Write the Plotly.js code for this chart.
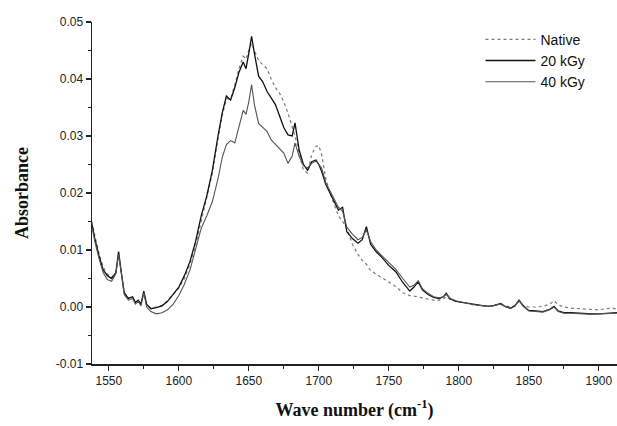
<!DOCTYPE html>
<html>
<head>
<meta charset="utf-8">
<script src="https://cdn.plot.ly/plotly-3.0.1.min.js"></script>
<style>html,body{margin:0;padding:0;background:#fff;}#chart{width:617px;height:426px;}</style>
</head>
<body>
<div id="chart"></div>
<script>
var waveNumber = [1538,1540,1543,1546,1549,1552,1555,1557,1559,1561,1564,1567,1569,1571,1573,1575,1577,1580,1584,1588,1592,1596,1600,1604,1608,1612,1616,1620,1624,1628,1631,1634,1637,1640,1643,1646,1648,1650,1652,1654,1657,1660,1663,1666,1669,1672,1675,1678,1681,1683,1686,1689,1692,1695,1698,1700,1702,1705,1708,1711,1714,1717,1720,1724,1728,1731,1734,1737,1741,1745,1750,1755,1760,1765,1768,1771,1774,1778,1782,1786,1789,1791,1794,1798,1803,1808,1813,1818,1823,1827,1830,1833,1837,1840,1843,1846,1850,1855,1860,1865,1868,1871,1875,1880,1885,1890,1895,1900,1905,1910,1913];

var native = [0.0150,0.0125,0.0095,0.0070,0.0058,0.0052,0.0060,0.0094,0.0060,0.0025,0.0016,0.0018,0.0008,0.0011,0.0004,0.0026,0.0004,-0.0002,0.0000,0.0003,0.0011,0.0023,0.0033,0.0050,0.0075,0.0108,0.0150,0.0188,0.0235,0.0295,0.0335,0.0365,0.0365,0.0390,0.0418,0.0440,0.0435,0.0450,0.0462,0.0450,0.0432,0.0425,0.0418,0.0400,0.0385,0.0375,0.0360,0.0340,0.0315,0.0300,0.0270,0.0240,0.0235,0.0268,0.0282,0.0283,0.0268,0.0225,0.0200,0.0178,0.0160,0.0150,0.0138,0.0110,0.0092,0.0082,0.0075,0.0064,0.0058,0.0052,0.0045,0.0036,0.0025,0.0020,0.0019,0.0018,0.0016,0.0014,0.0012,0.0012,0.0014,0.0018,0.0013,0.0010,0.0007,0.0005,0.0003,0.0002,0.0002,0.0004,0.0004,0.0002,0.0000,0.0002,0.0010,0.0003,0.0000,0.0000,0.0001,0.0005,0.0011,0.0004,0.0000,-0.0002,-0.0003,-0.0004,-0.0005,-0.0005,-0.0003,-0.0002,-0.0004];

var kGy20 = [0.0145,0.0120,0.0090,0.0065,0.0055,0.0050,0.0060,0.0097,0.0060,0.0025,0.0015,0.0018,0.0008,0.0012,0.0005,0.0028,0.0005,-0.0003,-0.0001,0.0002,0.0010,0.0022,0.0035,0.0055,0.0080,0.0115,0.0160,0.0195,0.0240,0.0300,0.0340,0.0370,0.0363,0.0385,0.0412,0.0430,0.0418,0.0445,0.0475,0.0445,0.0405,0.0395,0.0378,0.0367,0.0355,0.0335,0.0315,0.0302,0.0300,0.0323,0.0275,0.0250,0.0240,0.0255,0.0258,0.0250,0.0238,0.0215,0.0200,0.0185,0.0170,0.0175,0.0132,0.0120,0.0112,0.0118,0.0141,0.0110,0.0097,0.0087,0.0073,0.0062,0.0043,0.0028,0.0035,0.0044,0.0030,0.0022,0.0017,0.0015,0.0018,0.0024,0.0014,0.0010,0.0008,0.0005,0.0003,0.0002,0.0001,0.0004,0.0006,0.0001,-0.0002,0.0002,0.0012,0.0002,-0.0006,-0.0007,-0.0008,-0.0004,0.0001,-0.0007,-0.0010,-0.0010,-0.0011,-0.0011,-0.0012,-0.0012,-0.0011,-0.0011,-0.0010];

var kGy40 = [0.0140,0.0115,0.0085,0.0060,0.0048,0.0045,0.0058,0.0092,0.0058,0.0022,0.0012,0.0015,0.0005,0.0010,0.0002,0.0025,0.0000,-0.0008,-0.0012,-0.0010,-0.0005,0.0005,0.0020,0.0040,0.0065,0.0100,0.0138,0.0160,0.0185,0.0225,0.0262,0.0285,0.0292,0.0288,0.0315,0.0345,0.0338,0.0360,0.0390,0.0355,0.0322,0.0315,0.0308,0.0293,0.0285,0.0277,0.0270,0.0252,0.0265,0.0288,0.0264,0.0248,0.0244,0.0252,0.0256,0.0250,0.0244,0.0218,0.0203,0.0188,0.0175,0.0168,0.0140,0.0128,0.0118,0.0122,0.0135,0.0115,0.0100,0.0090,0.0078,0.0066,0.0050,0.0035,0.0038,0.0046,0.0032,0.0024,0.0018,0.0016,0.0018,0.0022,0.0015,0.0011,0.0008,0.0005,0.0003,0.0002,0.0001,0.0004,0.0005,0.0001,-0.0003,0.0001,0.0011,0.0001,-0.0007,-0.0008,-0.0009,-0.0005,0.0000,-0.0008,-0.0011,-0.0011,-0.0012,-0.0012,-0.0013,-0.0012,-0.0012,-0.0011,-0.0011];

var seriesNames = ['Native', '20 kGy', '40 kGy'];
var xTickVals = [1550,1600,1650,1700,1750,1800,1850,1900];
var yTickVals = [-0.01,0.00,0.01,0.02,0.03,0.04,0.05];

var traces = [
  {x: waveNumber, y: native, name: seriesNames[0], mode: 'lines',
   line: {color: '#7a7a7a', width: 1.2, dash: 'dot'}},
  {x: waveNumber, y: kGy20, name: seriesNames[1], mode: 'lines',
   line: {color: '#111111', width: 1.3}},
  {x: waveNumber, y: kGy40, name: seriesNames[2], mode: 'lines',
   line: {color: '#555555', width: 1.1}}
];

var axisFont = {family: 'Arial, Liberation Sans, sans-serif', size: 12, color: '#222'};
var layout = {
  width: 617, height: 426,
  margin: {l: 92, r: 0, t: 22, b: 62},
  paper_bgcolor: '#fff', plot_bgcolor: '#fff',
  showlegend: true,
  legend: {x: 0.74, y: 0.995, xanchor: 'left', yanchor: 'top', bgcolor: 'rgba(0,0,0,0)',
           font: {family: 'Arial, Liberation Sans, sans-serif', size: 14, color: '#111'},
           itemwidth: 50, tracegroupgap: 0},
  xaxis: {range: [1538, 1913], tickvals: xTickVals, ticktext: xTickVals.map(String),
          showgrid: false, zeroline: false, showline: true, linecolor: '#222', linewidth: 1.5,
          ticks: 'outside', ticklen: 5, tickwidth: 1.2, tickcolor: '#222', tickfont: axisFont,
          minor: {dtick: 25, tick0: 1525, ticks: 'outside', ticklen: 3, tickcolor: '#222', showgrid: false},
          title: {text: '<b>Wave number (cm<sup>-1</sup>)</b>', standoff: 16,
                  font: {family: 'Liberation Serif, Times New Roman, serif', size: 18, color: '#111'}}},
  yaxis: {range: [-0.01, 0.05], tickvals: yTickVals, ticktext: yTickVals.map(function(v){return v.toFixed(2);}),
          showgrid: false, zeroline: false, showline: true, linecolor: '#222', linewidth: 1.5,
          ticks: 'outside', ticklen: 5, tickwidth: 1.2, tickcolor: '#222', tickfont: axisFont,
          minor: {dtick: 0.005, tick0: 0, ticks: 'outside', ticklen: 3, tickcolor: '#222', showgrid: false},
          title: {text: '<b>Absorbance</b>', standoff: 22,
                  font: {family: 'Liberation Serif, Times New Roman, serif', size: 18, color: '#111'}}}
};

Plotly.newPlot('chart', traces, layout, {displayModeBar: false, staticPlot: true});
</script>
</body>
</html>
